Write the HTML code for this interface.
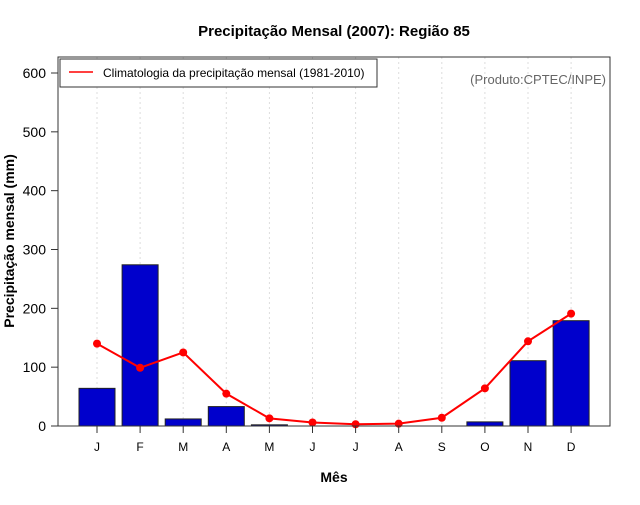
<!DOCTYPE html>
<html><head><meta charset="utf-8"><style>
body{margin:0;background:#fff;font-family:"Liberation Sans",sans-serif}
</style></head><body>
<svg width="640" height="500" xmlns="http://www.w3.org/2000/svg" font-family="Liberation Sans, sans-serif">
<rect width="640" height="500" fill="#fff"/>
<text x="334" y="36" text-anchor="middle" font-size="15" font-weight="bold">Precipitação Mensal (2007): Região 85</text>
<g id="grid"></g>
<g id="bars"></g>
<g id="line"></g>
<rect x="58" y="57" width="552" height="369" fill="none" stroke="#333"/>
<g id="yaxis"></g>
<g id="xaxis"></g>
<text x="334" y="482" text-anchor="middle" font-size="14" font-weight="bold">Mês</text>
<text transform="translate(14,241) rotate(-90)" text-anchor="middle" font-size="14" font-weight="bold">Precipitação mensal (mm)</text>
<g>
<rect x="60" y="59" width="317" height="28" fill="#fff" stroke="#333"/>
<line x1="69" y1="72" x2="93" y2="72" stroke="#f00" stroke-width="1.5"/>
<text x="103" y="77" font-size="12">Climatologia da precipitação mensal (1981-2010)</text>
</g>
<text x="606" y="84" text-anchor="end" font-size="13" fill="#666">(Produto:CPTEC/INPE)</text>
</svg>
<script>
const months=["J","F","M","A","M","J","J","A","S","O","N","D"];
const precip2007=[64,274,12,33,2,0,0,0,0,7,111,179];
const climatology=[140,99,125,55,13,6,3,4,14,64,144,191];
const yTicks=[0,100,200,300,400,500,600];
const NS="http://www.w3.org/2000/svg";
function xPos(i){return 97+i*43.1;}
function yPos(v){return 426-v*(353/600);}
function mk(p,tag,attrs){const e=document.createElementNS(NS,tag);for(const k in attrs)e.setAttribute(k,attrs[k]);p.appendChild(e);return e;}
const grid=document.getElementById('grid'),bars=document.getElementById('bars'),line=document.getElementById('line'),ya=document.getElementById('yaxis'),xa=document.getElementById('xaxis');
months.forEach((m,i)=>{
 const g=mk(grid,'line',{x1:xPos(i),x2:xPos(i),y1:57,y2:426,stroke:'#ddd','stroke-dasharray':'2,3'});
 
 
 const v=precip2007[i];
 const b=mk(bars,'rect',{x:xPos(i)-18,y:yPos(v),width:36,height:Math.max(yPos(0)-yPos(v),0),fill:'#0000CC',stroke:'#222','stroke-width':1});
 
 
 const t=mk(xa,'line',{x1:xPos(i),x2:xPos(i),y1:426,y2:433,stroke:'#333'});
 
 
 const l=mk(xa,'text',{x:xPos(i),y:451,'text-anchor':'middle','font-size':12});
 l.textContent=m;
 
 
});
const pl=mk(line,'polyline',{points:climatology.map((v,i)=>xPos(i)+','+yPos(v)).join(' '),fill:'none',stroke:'#f00','stroke-width':2});


climatology.forEach((v,i)=>{
 const c=mk(line,'circle',{cx:xPos(i),cy:yPos(v),r:4,fill:'#f00'});
 
 
});
yTicks.forEach(v=>{
 const t=mk(ya,'line',{x1:51,x2:58,y1:yPos(v),y2:yPos(v),stroke:'#333'});
 
 
 const l=mk(ya,'text',{x:46,y:yPos(v)+5,'text-anchor':'end','font-size':14});
 l.textContent=v;
 
 
});
</script>
</body></html>
